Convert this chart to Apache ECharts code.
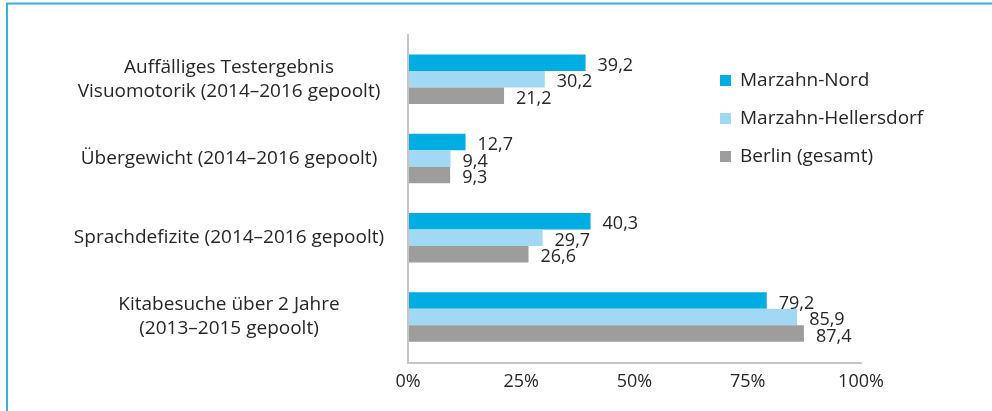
<!DOCTYPE html>
<html>
<head>
<meta charset="utf-8">
<script src="https://cdn.jsdelivr.net/npm/echarts@6/dist/echarts.min.js"></script>
<style>
html,body{margin:0;padding:0;background:#fff;}
#main{width:992px;height:411px;}
</style>
</head>
<body>
<div id="main"></div>
<script>
const categories = [
  'Auffälliges Testergebnis\nVisuomotorik (2014–2016 gepoolt)',
  'Übergewicht (2014–2016 gepoolt)',
  'Sprachdefizite (2014–2016 gepoolt)',
  'Kitabesuche über 2 Jahre\n(2013–2015 gepoolt)'
];
const seriesNames = ['Marzahn-Nord', 'Marzahn-Hellersdorf', 'Berlin (gesamt)'];
const marzahnNord = [39.2, 12.7, 40.3, 79.2];
const marzahnHellersdorf = [30.2, 9.4, 29.7, 85.9];
const berlinGesamt = [21.2, 9.3, 26.6, 87.4];
const xTicks = [0, 25, 50, 75, 100];

const colors = ['#00ade2', '#a1d9f4', '#9d9d9c'];
const font = '"Open Sans", sans-serif';
const textColor = '#262626';

const chart = echarts.init(document.getElementById('main'), null, {renderer: 'canvas'});
const gridLeft = 408, gridTop = 39.5, gridH = 317, gridW = 453;

function mk(name, data, i) {
  return {
    name: name, type: 'bar', data: data,
    barWidth: 16.5, barGap: '0%',
    itemStyle: {color: colors[i]},
    label: {
      show: true, position: 'right', distance: 12, offset: [0, 3],
      formatter: p => String(p.value).replace('.', ','),
      fontFamily: font, fontSize: 18, color: textColor
    }
  };
}

chart.setOption({
  animation: false,
  backgroundColor: '#fff',
  textStyle: {fontFamily: font},
  grid: {left: gridLeft, top: gridTop, width: gridW, height: gridH},
  legend: {
    orient: 'vertical', left: 715, top: 66, itemWidth: 11, itemHeight: 11,
    itemGap: 19, icon: 'rect',
    data: seriesNames,
    textStyle: {fontFamily: font, fontSize: 19, color: textColor, padding: [0, 0, 0, 4]}
  },
  xAxis: {
    type: 'value', min: xTicks[0], max: xTicks[xTicks.length - 1], interval: 25,
    offset: 6.5,
    axisLine: {show: true, lineStyle: {color: '#c6c6c6', width: 2}},
    axisTick: {show: false},
    splitLine: {show: false},
    axisLabel: {formatter: '{value}%', fontFamily: font, fontSize: 18, color: textColor, margin: 10}
  },
  yAxis: {
    type: 'category', inverse: true, data: categories,
    axisLine: {show: false},
    axisTick: {show: false},
    axisLabel: {align: 'center', margin: 179, fontFamily: font, fontSize: 19, color: textColor, lineHeight: 24}
  },
  graphic: [
    {type: 'line', shape: {x1: gridLeft, y1: 34, x2: gridLeft, y2: gridTop + gridH + 7.5}, style: {stroke: '#c6c6c6', lineWidth: 2}, z: 10},
    {type: 'line', shape: {x1: 6, y1: 3.5, x2: 992, y2: 3.5}, style: {stroke: '#3aaede', lineWidth: 2}},
    {type: 'line', shape: {x1: 7, y1: 3, x2: 7, y2: 411}, style: {stroke: '#3aaede', lineWidth: 2}}
  ],
  series: [
    mk(seriesNames[0], marzahnNord, 0),
    mk(seriesNames[1], marzahnHellersdorf, 1),
    mk(seriesNames[2], berlinGesamt, 2)
  ]
});
</script>
</body>
</html>
